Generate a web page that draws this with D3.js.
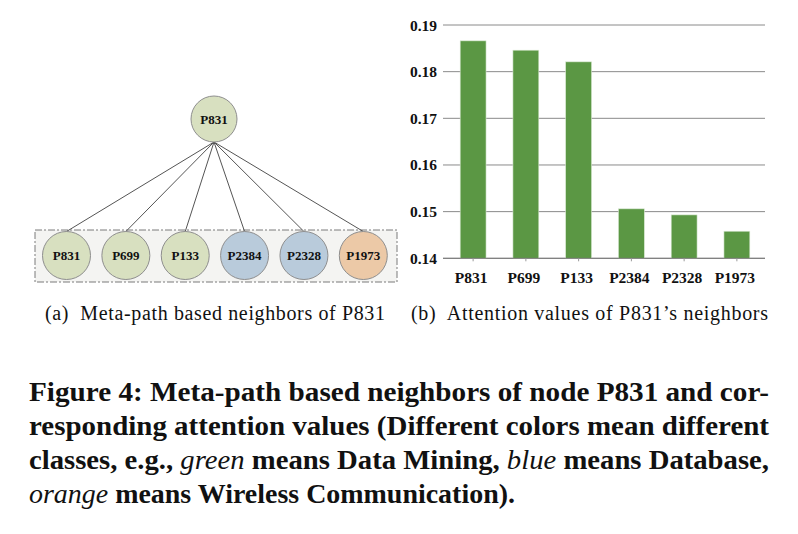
<!DOCTYPE html>
<html>
<head>
<meta charset="utf-8">
<script src="https://cdn.jsdelivr.net/npm/d3@7"></script>
<style>
  html, body { margin: 0; padding: 0; background: #fff; }
  svg { display: block; }
</style>
</head>
<body>
<svg id="fig" width="798" height="534"></svg>
<script>
// ==================== DATA ====================
const rootNode = 'P831';
const neighbors = ['P831', 'P699', 'P133', 'P2384', 'P2328', 'P1973'];
const neighborClass = ['Data Mining', 'Data Mining', 'Data Mining', 'Database', 'Database', 'Wireless Communication'];
const attention = [0.1866, 0.1846, 0.1821, 0.1506, 0.1493, 0.1458];
const yTicks = [0.14, 0.15, 0.16, 0.17, 0.18, 0.19];
const captionA = '(a)  Meta-path based neighbors of P831';
const captionB = '(b)  Attention values of P831\u2019s neighbors';

const classFill = {
  'Data Mining': '#d8e0c0',
  'Database': '#b9cbdb',
  'Wireless Communication': '#ecc9a7',
};

const serif = "'Liberation Serif', 'Times New Roman', serif";
const svg = d3.select('#fig');

// ==================== (a) NEIGHBOR GRAPH ====================
const nodeR = 24;
const rootX = 214, rootY = 119, rootR = 23;
const rowY = 255.5;
const xNode = d3.scalePoint().domain(neighbors).range([66.5, 363.3]);

const ga = svg.append('g');

ga.append('rect')
  .attr('x', 35).attr('y', 230)
  .attr('width', 362).attr('height', 52)
  .attr('fill', '#f4f4f2')
  .attr('stroke', '#7a7a7a')
  .attr('stroke-width', 1)
  .attr('stroke-dasharray', '7,2,2,2');

ga.selectAll('line.edge')
  .data(neighbors)
  .join('line')
  .attr('class', 'edge')
  .attr('x1', rootX).attr('y1', rootY + rootR)
  .attr('x2', (d) => xNode(d)).attr('y2', rowY - nodeR)
  .attr('stroke', '#555')
  .attr('stroke-width', 1);

ga.append('circle')
  .attr('cx', rootX).attr('cy', rootY).attr('r', rootR)
  .attr('fill', classFill['Data Mining'])
  .attr('stroke', '#8e8e8e');

ga.append('text')
  .attr('x', rootX).attr('y', rootY)
  .attr('text-anchor', 'middle')
  .attr('dominant-baseline', 'central')
  .style('font-family', serif)
  .style('font-weight', 'bold')
  .style('font-size', '13px')
  .attr('fill', '#111')
  .text(rootNode);

const nodes = ga.selectAll('g.node')
  .data(neighbors)
  .join('g')
  .attr('class', 'node')
  .attr('transform', (d) => `translate(${xNode(d)},${rowY})`);

nodes.append('circle')
  .attr('r', nodeR)
  .attr('fill', (d, i) => classFill[neighborClass[i]])
  .attr('stroke', '#8e8e8e');

nodes.append('text')
  .attr('text-anchor', 'middle')
  .attr('dominant-baseline', 'central')
  .style('font-family', serif)
  .style('font-weight', 'bold')
  .style('font-size', '13px')
  .attr('fill', '#111')
  .text((d) => d);

// ==================== (b) ATTENTION BARS ====================
const x = d3.scaleBand().domain(neighbors).range([447, 763]).paddingInner(0.51).paddingOuter(0.25);
const y = d3.scaleLinear().domain([0.14, 0.19]).range([258.3, 25]);

const gb = svg.append('g');

gb.selectAll('line.grid')
  .data(yTicks)
  .join('line')
  .attr('class', 'grid')
  .attr('x1', 443).attr('x2', 765)
  .attr('y1', (d) => y(d)).attr('y2', (d) => y(d))
  .attr('stroke', '#8a8a8a')
  .attr('stroke-width', 1);

gb.selectAll('text.ytick')
  .data(yTicks)
  .join('text')
  .attr('class', 'ytick')
  .attr('x', 437)
  .attr('y', (d) => y(d))
  .attr('text-anchor', 'end')
  .attr('dominant-baseline', 'central')
  .style('font-family', serif)
  .style('font-weight', 'bold')
  .style('font-size', '15.5px')
  .attr('fill', '#111')
  .text((d) => d.toFixed(2));

gb.selectAll('rect.bar')
  .data(neighbors)
  .join('rect')
  .attr('class', 'bar')
  .attr('x', (d) => x(d))
  .attr('width', x.bandwidth())
  .attr('y', (d, i) => y(attention[i]))
  .attr('height', (d, i) => y(0.14) - y(attention[i]))
  .attr('fill', '#5b9744')
  .attr('stroke', '#d6e6cf')
  .attr('stroke-width', 0.6);

// axis line + small ticks at bar centers
gb.append('line')
  .attr('x1', 443).attr('x2', 765)
  .attr('y1', y(0.14)).attr('y2', y(0.14))
  .attr('stroke', '#7a7a7a');

gb.selectAll('line.xtick')
  .data(neighbors)
  .join('line')
  .attr('class', 'xtick')
  .attr('x1', (d) => x(d) + x.bandwidth() / 2)
  .attr('x2', (d) => x(d) + x.bandwidth() / 2)
  .attr('y1', y(0.14)).attr('y2', y(0.14) + 3)
  .attr('stroke', '#999');

gb.selectAll('text.xlab')
  .data(neighbors)
  .join('text')
  .attr('class', 'xlab')
  .attr('x', (d) => x(d) + x.bandwidth() / 2 - 2)
  .attr('y', 283)
  .attr('text-anchor', 'middle')
  .style('font-family', serif)
  .style('font-weight', 'bold')
  .style('font-size', '15.5px')
  .attr('fill', '#111')
  .text((d) => d);

// ==================== SUBCAPTIONS ====================
[[captionA, 45, 340], [captionB, 411, 357]].forEach(([txt, x0, len]) => {
  svg.append('text')
    .attr('x', x0).attr('y', 320)
    .style('font-family', serif)
    .style('font-size', '20px')
    .attr('fill', '#111')
    .attr('textLength', len)
    .attr('lengthAdjust', 'spacing')
    .attr('xml:space', 'preserve')
    .text(txt);
});

// ==================== FIGURE CAPTION ====================
// each line: list of [text, italic]
const captionLines = [
  [['Figure 4: Meta-path based neighbors of node P831 and cor-', false]],
  [['responding attention values (Different colors mean different', false]],
  [['classes, e.g., ', false], ['green', true], [' means Data Mining, ', false], ['blue', true], [' means Database,', false]],
  [['orange', true], [' means Wireless Communication).', false]],
];
const captionBaselines = [401, 435, 469, 503];
const captionWidths = [740, 740, 740, 486];

captionLines.forEach((parts, li) => {
  const t = svg.append('text')
    .attr('x', 29)
    .attr('y', captionBaselines[li])
    .style('font-family', serif)
    .style('font-size', '27px')
    .style('font-weight', 'bold')
    .attr('fill', '#111')
    .attr('textLength', captionWidths[li])
    .attr('lengthAdjust', 'spacingAndGlyphs')
    .attr('xml:space', 'preserve');
  parts.forEach(([txt, it]) => {
    t.append('tspan')
      .style('font-style', it ? 'italic' : 'normal')
      .style('font-weight', it ? 'normal' : 'bold')
      .text(txt);
  });
});
</script>
</body>
</html>
